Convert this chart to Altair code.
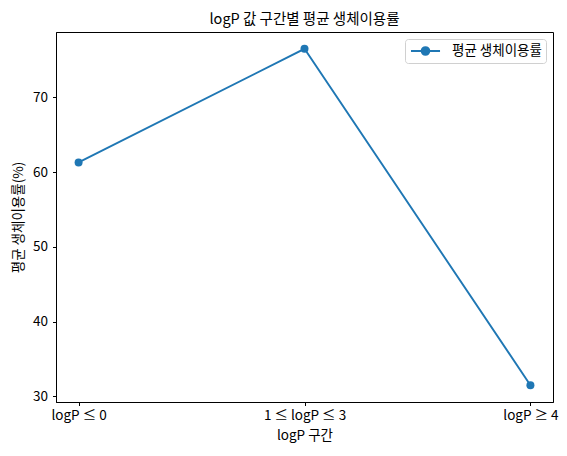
import altair as alt
import pandas as pd

categories = ["logP ≤ 0", "1 ≤ logP ≤ 3", "logP ≥ 4"]
values = [61.3, 76.5, 31.5]
series_name = "평균 생체이용률"

df = pd.DataFrame({"구간": categories, "값": values, "series": [series_name] * len(values)})

FONT = "Noto Sans CJK KR"
BLUE = "#1f77b4"

# line with a dot, drawn wider than the layout box of the symbol
legend_symbol = ("M-0.86,0H3.29M0.66,0a0.55,0.55 0 1,0 1.1,0"
                 "a0.55,0.55 0 1,0 -1.1,0")

chart = alt.Chart(df).mark_line(
    point=alt.OverlayMarkDef(filled=True, size=64, opacity=1),
    strokeWidth=1.9,
).encode(
    x=alt.X("구간:N", sort=categories,
            scale=alt.Scale(type="point", padding=0.1),
            axis=alt.Axis(title="logP 구간", labelAngle=0, labelPadding=3, titlePadding=6)),
    y=alt.Y("값:Q",
            scale=alt.Scale(domain=[29.25, 78.75], nice=False, zero=False),
            axis=alt.Axis(title="평균 생체이용률(%)", values=[30, 40, 50, 60, 70],
                          labelPadding=5, titlePadding=7)),
    color=alt.Color("series:N", scale=alt.Scale(range=[BLUE]),
                    legend=alt.Legend(title=None, orient="top-right",
                                      symbolType=legend_symbol, symbolSize=196,
                                      symbolStrokeWidth=1.9,
                                      symbolFillColor=BLUE, symbolStrokeColor=BLUE,
                                      fillColor="white", strokeColor="#d0d0d0",
                                      cornerRadius=3, padding=4, offset=7,
                                      labelOffset=27,
                                      labelFontSize=13.5, labelFont=FONT,
                                      labelColor="black")),
).properties(
    width=497,
    height=370,
    autosize=alt.AutoSizeParams(type="none"),
    padding={"left": 48, "top": 24, "right": 6, "bottom": 46},
    title=alt.TitleParams("logP 값 구간별 평균 생체이용률", font=FONT, fontSize=14.5,
                          fontWeight="normal", color="black", offset=5),
).configure_view(
    stroke="black", strokeWidth=1
).configure_axis(
    grid=False,
    domainColor="black",
    tickColor="black",
    tickSize=3.5,
    labelFont=FONT,
    labelFontSize=13.5,
    labelColor="black",
    titleFont=FONT,
    titleFontSize=13.5,
    titleFontWeight="normal",
    titleColor="black",
)

chart.save("out.html", embed_options={"renderer": "svg", "actions": False})
